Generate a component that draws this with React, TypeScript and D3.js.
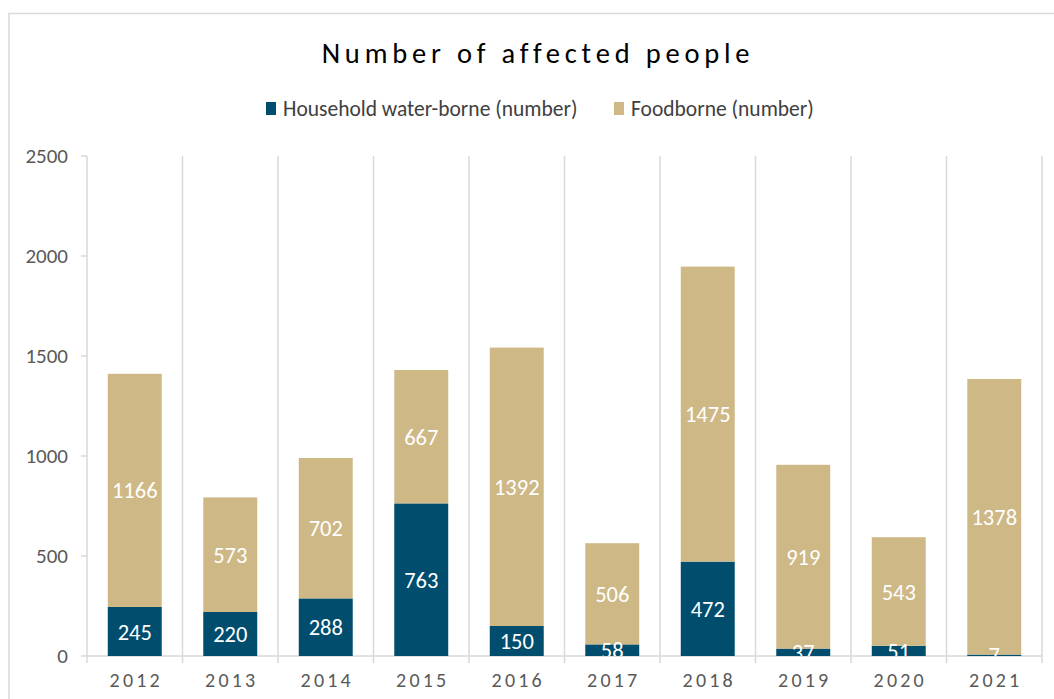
import React from "react";
import * as d3 from "d3";

const years = ["2012","2013","2014","2015","2016","2017","2018","2019","2020","2021"];
const waterborne = [245,220,288,763,150,58,472,37,51,7];
const foodborne = [1166,573,702,667,1392,506,1475,919,543,1378];
const yTicks = [0,500,1000,1500,2000,2500];
const seriesNames = ["Household water-borne (number)", "Foodborne (number)"];
const colors = ["#004D6E", "#CEB886"];

const W = 1054, H = 699;
const m = { left: 87, right: 1042, top: 156, bottom: 656 };

export default function App() {
  const x = d3.scaleBand().domain(years).range([m.left, m.right]).paddingInner(0.435).paddingOuter(0.2175);
  const step = x.step();
  const y = d3.scaleLinear().domain([0, 2500]).range([m.bottom, m.top]);
  const font = "Calibri, Carlito, 'Open Sans', sans-serif";
  const stacks = years.map((yr, i) => {
    const a = waterborne[i], b = foodborne[i];
    return [{ y0: 0, y1: a, v: a, c: colors[0] }, { y0: a, y1: a + b, v: b, c: colors[1] }];
  });
  const bounds = d3.range(years.length + 1).map(i => m.left + i * step);
  return (
    <svg width={W} height={H} style={{ position: "absolute", left: 0, top: 0, fontFamily: font }}>
      <rect x={0} y={0} width={W} height={H} fill="#fff" />
      <rect x={9} y={13.5} width={1100} height={720} fill="#fff" stroke="#d9d9d9" strokeWidth={1.5} />
      <text x={538} y={63} textAnchor="middle" fontSize={28.5} letterSpacing={4.8} fill="#000">Number of affected people</text>
      <g fontSize={21.5} fill="#404040">
        <rect x={266} y={102} width={10} height={13} fill={colors[0]} />
        <text x={283} y={116}>{seriesNames[0]}</text>
        <rect x={614} y={102} width={10} height={13} fill={colors[1]} />
        <text x={631} y={116}>{seriesNames[1]}</text>
      </g>
      {bounds.map((bx, i) => (
        <line key={"g" + i} x1={bx} x2={bx} y1={m.top} y2={m.bottom + 7} stroke="#d9d9d9" strokeWidth={1.5} />
      ))}
      <line x1={m.left} x2={m.right} y1={m.bottom} y2={m.bottom} stroke="#d9d9d9" strokeWidth={1.5} />
      {yTicks.map(t => (
        <g key={"t" + t}>
          <line x1={m.left - 6} x2={m.left} y1={y(t)} y2={y(t)} stroke="#d9d9d9" strokeWidth={1.5} />
          <text x={68} y={y(t) + 7} textAnchor="end" fontSize={21} fill="#595959">{t}</text>
        </g>
      ))}
      <defs>
        <clipPath id="plotclip"><rect x={m.left} y={0} width={m.right - m.left} height={m.bottom} /></clipPath>
      </defs>
      {years.map((yr, i) => (
        <g key={yr}>
          {stacks[i].map((s, j) => (
            <rect key={j} x={x(yr)} width={x.bandwidth()} y={y(s.y1)} height={y(s.y0) - y(s.y1)} fill={s.c} />
          ))}
          <g clipPath="url(#plotclip)">
            {stacks[i].map((s, j) => (
              <text key={"l" + j} x={x(yr)! + x.bandwidth() / 2} y={(y(s.y0) + y(s.y1)) / 2 + 8} textAnchor="middle" fontSize={22.5} fill="#fff">{s.v}</text>
            ))}
          </g>
          <text x={x(yr)! + x.bandwidth() / 2 + 1.5} y={687} textAnchor="middle" fontSize={20} letterSpacing={3.2} fill="#595959">{yr}</text>
        </g>
      ))}
    </svg>
  );
}
